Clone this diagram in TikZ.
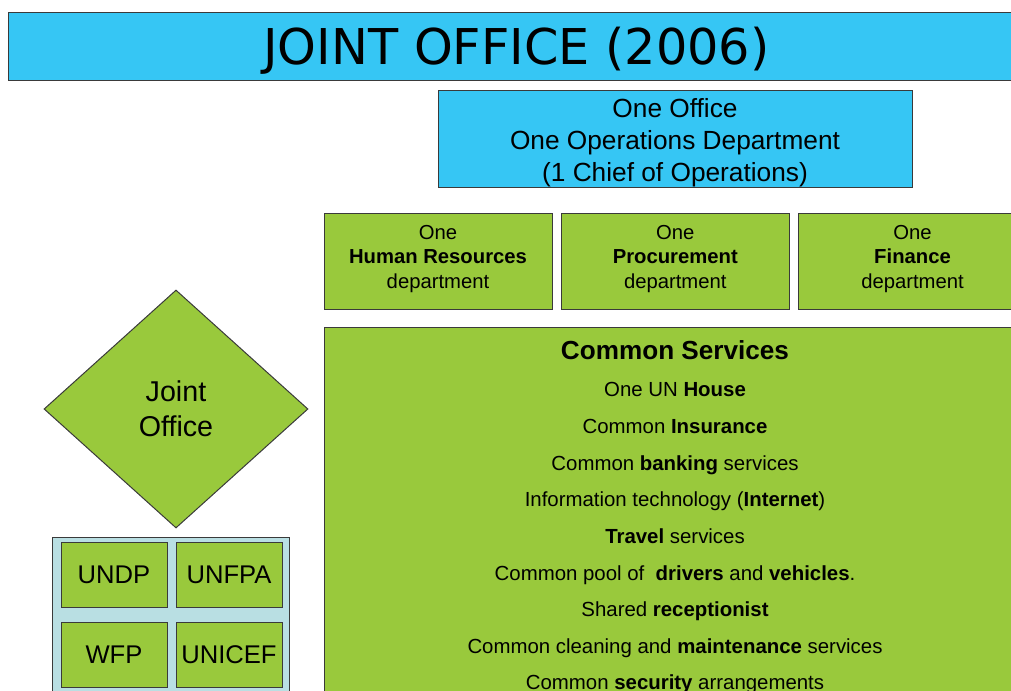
\documentclass[tikz,border=0pt]{standalone}
\usepackage{fontspec}
\setmainfont{Liberation Sans}
\newfontfamily\titlefont{DejaVu Sans}
\usepackage{xcolor}
\usepackage{tikz}
\usetikzlibrary{chains,positioning,shapes.geometric}

\definecolor{jblue}{HTML}{36C6F4}
\definecolor{jgreen}{HTML}{99C93C}
\definecolor{jpale}{HTML}{B9DFE3}
\definecolor{jline}{HTML}{3A3A3A}

\begin{document}
\begin{tikzpicture}[x=0.75pt,y=-0.75pt]

\edef\sizedept{171pt}
\tikzstyle{bluebox}=[draw=jline,fill=jblue,line width=0.75pt,inner sep=0pt]
\tikzstyle{greenbox}=[draw=jline,fill=jgreen,line width=0.75pt,inner sep=0pt]
\tikzstyle{deptbox}=[greenbox,minimum width=\sizedept,minimum height=72pt,align=center,font=\fontsize{15.2}{18.4}\selectfont]
\tikzstyle{agencybox}=[greenbox,minimum width=79.5pt,minimum height=48.75pt,font=\fontsize{19.2}{23}\selectfont]
\tikzstyle{service}=[inner sep=0pt,text height=12pt,text depth=1.2pt,font=\fontsize{15.3}{18}\selectfont]

\useasboundingbox (0,0) rectangle (1011,690);
\clip (0,0) rectangle (1011,690);

%% Title bar
\node[bluebox,minimum width=762.75pt,minimum height=51pt,text height=28pt,text depth=0pt,font=\titlefont\fontsize{37}{44}\selectfont] (title) at (516.5,46) {JOINT OFFICE (2006)};

%% Operations department
\node[bluebox,minimum width=355.5pt,minimum height=72pt,align=center,font=\fontsize{19.7}{24}\selectfont] (ops) at (675,139) {\rule{0pt}{20.5pt}One Office\\One Operations Department\\(1 Chief of Operations)};

%% Departments
\begin{scope}[start chain=1 going right,node distance=6.2pt]
    \node [on chain=1,deptbox] (hr) at (438,261) {One\\\textbf{Human Resources}\\department\rule[-6.2pt]{0pt}{0pt}};
    \node [on chain=1,deptbox] (proc) {One\\\textbf{Procurement}\\department\rule[-6.2pt]{0pt}{0pt}};
    \node [on chain=1,deptbox] (fin) {One\\\textbf{Finance}\\department\rule[-6.2pt]{0pt}{0pt}};
\end{scope}

%% Common services
\node[greenbox,anchor=north west,minimum width=526.5pt,minimum height=330pt] (services) at (324,327) {};
\node[font=\bfseries\fontsize{19.6}{24}\selectfont] (cshead) at (675,350) {Common Services};
\node[service] (house) at (675,389) {One UN \textbf{House}};
\node[service] (insur) at (675,426) {Common \textbf{Insurance}};
\node[service] (bank) at (675,463) {Common \textbf{banking} services};
\node[service] (inet) at (675,499) {Information technology (\textbf{Internet})};
\node[service] (travel) at (675,536) {\textbf{Travel} services};
\node[service] (pool) at (675,573) {Common pool of\ \ \textbf{drivers} and \textbf{vehicles}.};
\node[service] (recep) at (675,609) {Shared \textbf{receptionist}};
\node[service] (clean) at (675,646) {Common cleaning and \textbf{maintenance} services};
\node[service] (secur) at (675,682) {Common \textbf{security} arrangements};

%% Joint office
\node[greenbox,diamond,aspect=1.11,minimum width=198pt,minimum height=178.5pt,align=center,font=\fontsize{21.5}{26.3}\selectfont] (joint) at (176,409) {Joint\\Office};

%% Agencies
\node[draw=jline,fill=jpale,line width=0.75pt,anchor=north west,minimum width=177.75pt,minimum height=150pt] (agencies) at (52,537) {};
\node[agencybox] (undp) at (114,574.5) {UNDP};
\node[agencybox,right=6pt of undp] (unfpa) {UNFPA};
\node[agencybox,below=10.5pt of undp] (wfp) {WFP};
\node[agencybox,right=6pt of wfp] (unicef) {UNICEF};

\end{tikzpicture}
\end{document}
